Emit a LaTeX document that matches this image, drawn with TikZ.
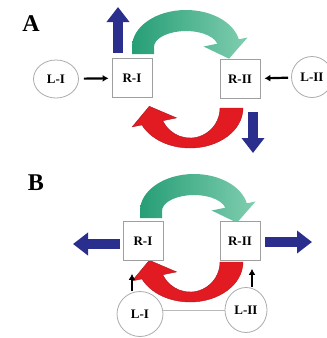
\documentclass[tikz,border=0pt]{standalone}
\usepackage{fontspec}
\setmainfont{Liberation Serif}
\usetikzlibrary{arrows.meta,shapes.geometric}
\definecolor{flowblue}{RGB}{42,46,140}
\definecolor{flowred}{RGB}{226,26,34}
\definecolor{edgered}{RGB}{175,22,30}
\definecolor{greendark}{RGB}{38,158,118}
\definecolor{greenlight}{RGB}{128,206,176}
\tikzset{
    receptor/.style={draw=gray!75, line width=0.8pt, fill=white, minimum width=40pt, minimum height=39pt, inner sep=0pt, font=\fontsize{13}{13}\selectfont\bfseries},
    ligand/.style={ellipse, draw=gray!65, line width=0.8pt, fill=white, inner sep=0pt, font=\fontsize{13}{13}\selectfont\bfseries},
    panel/.style={font=\fontsize{24}{24}\selectfont\bfseries},
    bind/.style={black, line width=2.2pt, -{Latex[length=6pt,width=7pt]}},
    efflux/.style={flowblue, line width=10pt, -{Triangle[width=22pt,length=15pt]}},
    link/.style={gray!55, line width=0.8pt},
    turnover/.style={fill=flowred, draw=edgered, line width=0.4pt}
}
\begin{document}
\begin{tikzpicture}[x=1pt, y=-1pt]
    \useasboundingbox (0,0) rectangle (327,338);
    \shade[left color=greendark, right color=greenlight] (132,54) -- (132,47)
        arc[start angle=180, end angle=12, x radius=54pt, y radius=37pt]
        -- (247.6,37.5) -- (229,58.7) -- (203.6,46.5) -- (217.3,43.7)
        arc[start angle=12, end angle=180, x radius=32pt, y radius=16pt]
        -- (154,54) -- cycle;
    \begin{scope}[shift={(8,164)}]
        \shade[left color=greendark, right color=greenlight] (132,54) -- (132,47)
            arc[start angle=180, end angle=12, x radius=54pt, y radius=37pt]
            -- (247.6,37.5) -- (229,58.7) -- (203.6,46.5) -- (217.3,43.7)
            arc[start angle=12, end angle=180, x radius=32pt, y radius=16pt]
            -- (154,54) -- cycle;
    \end{scope}
    \foreach \dy in {0,154} {
        \begin{scope}[shift={(0,\dy)}]
            \path[turnover] (243,108)
                arc[start angle=0, end angle=-155, x radius=53pt, y radius=40pt]
                -- (132.2,126.9) -- (149.3,106.3) -- (176.5,117.9) -- (162.8,120.7)
                arc[start angle=-155, end angle=0, x radius=30pt, y radius=30pt]
                -- cycle;
        \end{scope}
    }

    \node[panel] (labA) at (31,24) {A};
    \node[ligand, minimum width=45pt, minimum height=38pt] (LIa) at (56,79) {L-I};
    \node[receptor] (RIa) at (132,78) {R-I};
    \node[receptor] (RIIa) at (240,79) {R-II};
    \node[ligand, minimum width=41pt, minimum height=41pt] (LIIa) at (312,77) {L-II};
    \draw[bind, shorten <=5pt, shorten >=3pt] (LIa) -- (RIa);
    \draw[bind, shorten <=3pt, shorten >=4pt] (LIIa) -- (RIIa);
    \coordinate (upA0) at (118,53);
    \coordinate (upA1) at (118,7);
    \coordinate (downA0) at (253,112);
    \coordinate (downA1) at (253,153);
    \draw[efflux] (upA0) -- (upA1);
    \draw[efflux] (downA0) -- (downA1);

    \node[panel] (labB) at (36,183) {B};
    \node[receptor] (RIb) at (143,241) {R-I};
    \node[receptor] (RIIb) at (240,241) {R-II};
    \node[ligand, minimum width=46pt, minimum height=45pt] (LIb) at (140,314) {L-I};
    \node[ligand, minimum width=42pt, minimum height=45pt] (LIIb) at (246,310) {L-II};
    \draw[link] (LIIb.west) -- (LIIb.west -| LIb.east);
    \draw[bind, line width=1.8pt, shorten >=13pt] ([xshift=-8pt]LIb.north) -- ([xshift=-11pt]RIb.south);
    \draw[bind, line width=1.8pt, shorten >=8pt] ([xshift=6pt]LIIb.north) -- ([xshift=12pt]RIIb.south);
    \coordinate (leftB0) at (120,244);
    \coordinate (leftB1) at (73,244);
    \coordinate (rightB0) at (265,242);
    \coordinate (rightB1) at (312,242);
    \draw[efflux] (leftB0) -- (leftB1);
    \draw[efflux] (rightB0) -- (rightB1);
\end{tikzpicture}
\end{document}
